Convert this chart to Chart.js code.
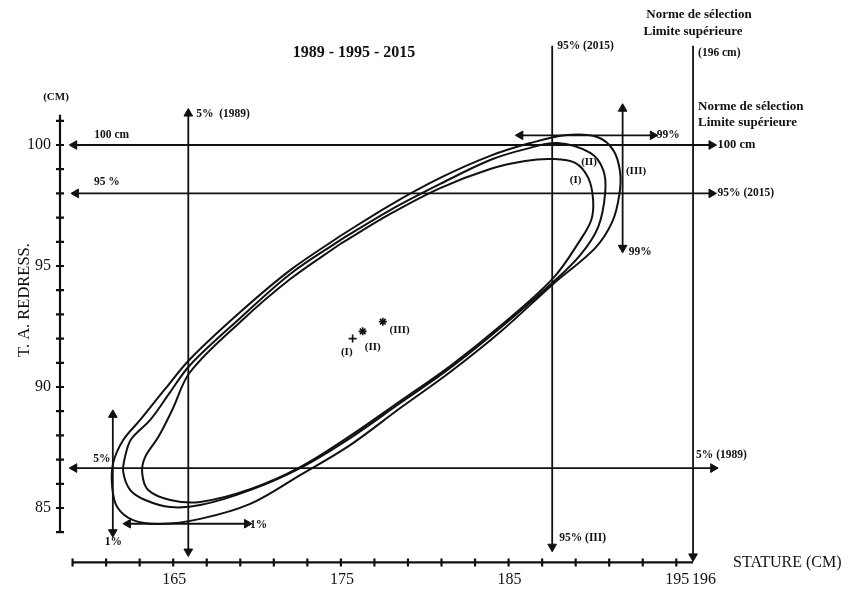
<!DOCTYPE html>
<html>
<head>
<meta charset="utf-8">
<script src="https://cdn.jsdelivr.net/npm/chart.js@4.4.1/dist/chart.umd.min.js"></script>
<style>
  html, body { margin: 0; padding: 0; background: #fff; }
  #wrap { width: 850px; height: 594px; position: relative; }
</style>
</head>
<body>
<div id="wrap"><canvas id="chart"></canvas></div>
<script>
// axis ticks (stature in cm, T.A. redressé in cm)
const xMinorTicks = [159, 161, 163, 165, 167, 169, 171, 173, 175, 177, 179, 181, 183, 185, 187, 189, 191, 193, 195];
const yMinorTicks = [84, 85, 86, 87, 88, 89, 90, 91, 92, 93, 94, 95, 96, 97, 98, 99, 100, 101];
const xTickLabels = [165, 175, 185, 195, 196];
const yTickLabels = [85, 90, 95, 100];

// ellipses (I = 1989, II = 1995, III = 2015)
const ellipseIX = [174.96, 177.94, 180.92, 183.90, 185.99, 187.60, 188.97, 189.75, 190.04, 189.93, 189.27, 187.66, 184.50, 181.52, 178.54, 175.55, 172.57, 169.59, 166.61, 164.82, 163.51, 163.15, 163.33, 164.11, 164.94, 166.01, 169.00, 171.98, 174.96];
const ellipseIY = [95.91, 97.15, 98.22, 99.01, 99.34, 99.42, 99.26, 98.64, 97.73, 96.90, 96.07, 94.50, 92.52, 90.87, 89.42, 87.98, 86.69, 85.78, 85.25, 85.33, 85.74, 86.45, 87.11, 87.93, 89.05, 90.62, 92.69, 94.46, 95.91];
const ellipseIIX = [174.96, 177.94, 180.92, 183.90, 185.99, 187.90, 189.87, 190.64, 190.76, 190.34, 189.27, 187.66, 184.50, 181.52, 178.54, 175.55, 172.57, 169.59, 166.61, 164.82, 163.33, 162.44, 162.02, 162.14, 162.50, 163.63, 164.82, 166.01, 169.00, 171.98, 174.96];
const ellipseIIY = [96.07, 97.31, 98.39, 99.38, 99.83, 100.08, 99.67, 98.97, 98.02, 96.61, 95.45, 94.34, 92.44, 90.79, 89.34, 87.89, 86.65, 85.74, 85.12, 85.04, 85.33, 85.74, 86.49, 87.15, 87.85, 88.64, 89.79, 90.91, 92.85, 94.67, 96.07];
const ellipseIIIX = [174.96, 177.94, 180.92, 183.90, 186.29, 188.49, 190.28, 191.24, 191.65, 191.60, 191.18, 190.16, 187.66, 184.50, 181.52, 178.54, 175.55, 172.57, 169.59, 166.61, 164.22, 162.61, 161.66, 161.36, 161.42, 162.02, 163.03, 164.52, 166.01, 169.00, 171.98, 174.96];
const ellipseIIIY = [96.24, 97.52, 98.64, 99.55, 100.08, 100.41, 100.33, 99.79, 98.88, 97.93, 96.82, 95.74, 94.26, 92.27, 90.62, 89.13, 87.60, 86.36, 85.17, 84.55, 84.34, 84.50, 85.04, 85.87, 86.86, 87.81, 88.64, 89.92, 91.16, 93.10, 94.83, 96.24];

// means of the three distributions
const centerX = [175.7, 176.3, 177.5];
const centerY = [92.0, 92.3, 92.7];
const centerNames = ['(I)', '(II)', '(III)'];

// horizontal limit lines (y value, left end, right end)
const hLineY = [100, 98, 86.65, 84.35, 100.4];
const hLineFrom = [159.1, 159.2, 159.1, 162.3, 185.7];
const hLineTo = [197.1, 197.1, 197.2, 169.4, 193.6];

// vertical limit lines (x value, bottom end, top end)
const vLineX = [165.9, 187.6, 196, 191.8, 161.4];
const vLineFrom = [83.2, 83.4, 83.0, 95.75, 84.0];
const vLineTo = [101.3, 104.1, 104.1, 101.5, 88.85];

const INK = '#111';
const SERIF = '"Liberation Serif", "DejaVu Serif", serif';

function toPoints(xs, ys) {
    return xs.map((x, i) => ({ x: x, y: ys[i] }));
}

const datasets = [];

hLineY.forEach((y, i) => {
    datasets.push({
        data: [{ x: hLineFrom[i], y: y }, { x: hLineTo[i], y: y }],
        showLine: true,
        borderColor: INK,
        borderWidth: 1.8,
        pointStyle: 'triangle',
        pointRotation: [-90, 90],
        pointRadius: 5,
        pointBackgroundColor: INK,
        pointBorderColor: INK,
        pointBorderWidth: 1,
        clip: false
    });
});

vLineX.forEach((x, i) => {
    datasets.push({
        data: [{ x: x, y: vLineFrom[i] }, { x: x, y: vLineTo[i] }],
        showLine: true,
        borderColor: INK,
        borderWidth: 1.8,
        pointStyle: 'triangle',
        pointRotation: [180, 0],
        pointRadius: 5,
        pointBackgroundColor: INK,
        pointBorderColor: INK,
        pointBorderWidth: 1,
        clip: false
    });
});

[[ellipseIX, ellipseIY], [ellipseIIX, ellipseIIY], [ellipseIIIX, ellipseIIIY]].forEach(e => {
    datasets.push({
        data: toPoints(e[0], e[1]),
        showLine: true,
        borderColor: INK,
        borderWidth: 2,
        tension: 0.35,
        pointRadius: 0,
        clip: false
    });
});

datasets.push({
    data: toPoints(centerX, centerY),
    showLine: false,
    pointStyle: ['cross', 'star', 'star'],
    pointRadius: 4,
    borderColor: INK,
    borderWidth: 1.6,
    clip: false
});

// axes, ticks and all the annotations
const annotations = {
    id: 'annotations',
    afterDraw(chart) {
        const ctx = chart.ctx;
        const xs = chart.scales.x;
        const ys = chart.scales.y;
        const px = v => xs.getPixelForValue(v);
        const py = v => ys.getPixelForValue(v);
        const txt = (s, x, y, font, align) => {
            ctx.font = font;
            ctx.textAlign = align || 'left';
            ctx.textBaseline = 'middle';
            ctx.fillText(s, x, y);
        };

        ctx.save();
        ctx.strokeStyle = INK;
        ctx.fillStyle = INK;
        ctx.lineWidth = 2.2;

        // y axis
        const x0 = px(xs.min);
        ctx.beginPath();
        ctx.moveTo(x0, py(84));
        ctx.lineTo(x0, py(101.25));
        yMinorTicks.forEach(v => {
            ctx.moveTo(x0 - 4, py(v));
            ctx.lineTo(x0 + 4, py(v));
        });
        ctx.stroke();
        yTickLabels.forEach(v => txt(String(v), x0 - 9, py(v), '16px ' + SERIF, 'right'));

        // x axis
        const y0 = py(ys.min);
        ctx.beginPath();
        ctx.moveTo(px(159), y0);
        ctx.lineTo(px(196), y0);
        xMinorTicks.forEach(v => {
            ctx.moveTo(px(v), y0 - 4);
            ctx.lineTo(px(v), y0 + 4);
        });
        ctx.stroke();
        xTickLabels.forEach(v => {
            if (v === 196) txt(String(v), px(v) - 1, y0 + 17, '16px ' + SERIF, 'left');
            else txt(String(v), px(v) + 1, y0 + 17, '16px ' + SERIF, 'center');
        });

        // titles
        txt('1989 - 1995 - 2015', 354, 53, 'bold 16px ' + SERIF, 'center');
        txt('(CM)', x0 - 4, 97, 'bold 11px ' + SERIF, 'center');
        txt('STATURE (CM)', 733, y0, '16px ' + SERIF, 'left');
        ctx.save();
        ctx.translate(25, 300);
        ctx.rotate(-Math.PI / 2);
        txt('T. A. REDRESS.', 0, 0, '16.5px ' + SERIF, 'center');
        ctx.restore();

        const small = 'bold 11.5px ' + SERIF;
        const norme = 'bold 13px ' + SERIF;

        // horizontal line labels
        txt('100 cm', px(hLineFrom[0]) + 20, py(hLineY[0]) - 10, small);
        txt('100 cm', px(hLineTo[0]) + 6, py(hLineY[0]), 'bold 12.5px ' + SERIF);
        txt('95 %', px(hLineFrom[1]) + 18, py(hLineY[1]) - 11, small);
        txt('95% (2015)', px(hLineTo[1]) + 6, py(hLineY[1]), small);
        txt('5%', px(hLineFrom[2]) + 19, py(hLineY[2]) - 9, small);
        txt('5% (1989)', px(196) + 3, py(hLineY[2]) - 13, small);
        txt('1%', px(hLineTo[3]) + 3, py(hLineY[3]) + 1, small);
        txt('99%', px(hLineTo[4]) + 4, py(hLineY[4]), small);

        // vertical line labels
        txt('5%  (1989)', px(vLineX[0]) + 8, py(vLineTo[0]), small);
        txt('95% (2015)', px(vLineX[1]) + 5, py(vLineTo[1]), small);
        txt('95% (III)', px(vLineX[1]) + 7, py(vLineFrom[1]) - 9, small);
        txt('(196 cm)', px(vLineX[2]) + 5, py(vLineTo[2]) + 7, small);
        txt('Norme de sélection', 699, 15, norme, 'center');
        txt('Limite supérieure', 693, 32, norme, 'center');
        txt('Norme de sélection', px(vLineX[2]) + 5, 107, norme);
        txt('Limite supérieure', px(vLineX[2]) + 5, 123, norme);
        txt('99%', px(vLineX[3]) + 6, py(vLineFrom[3]) + 4, small);
        txt('1%', px(vLineX[4]) - 8, py(vLineFrom[4]) + 10, small);

        // ellipse names at the upper end
        txt('(I)', px(189.0), py(98.55), 'bold 11px ' + SERIF, 'center');
        txt('(II)', px(189.8), py(99.3), 'bold 11px ' + SERIF, 'center');
        txt('(III)', px(192.6), py(98.9), 'bold 11px ' + SERIF, 'center');

        // names next to the means
        const offX = [-0.35, 0.6, 1.0];
        const offY = [-0.55, -0.65, -0.35];
        centerNames.forEach((n, i) => {
            txt(n, px(centerX[i] + offX[i]), py(centerY[i] + offY[i]), 'bold 11px ' + SERIF, 'center');
        });

        ctx.restore();
    }
};

const ctx = document.getElementById('chart').getContext('2d');
new Chart(ctx, {
    type: 'scatter',
    data: { datasets: datasets },
    options: {
        responsive: true,
        maintainAspectRatio: false,
        animation: false,
        events: [],
        layout: { padding: { left: 60, right: 123.4, top: 84.5, bottom: 31.55 } },
        scales: {
            x: { type: 'linear', min: 158.25, max: 198, display: false },
            y: { type: 'linear', min: 82.75, max: 102.5, display: false }
        },
        plugins: {
            legend: { display: false },
            tooltip: { enabled: false }
        }
    },
    plugins: [annotations]
});
</script>
</body>
</html>
